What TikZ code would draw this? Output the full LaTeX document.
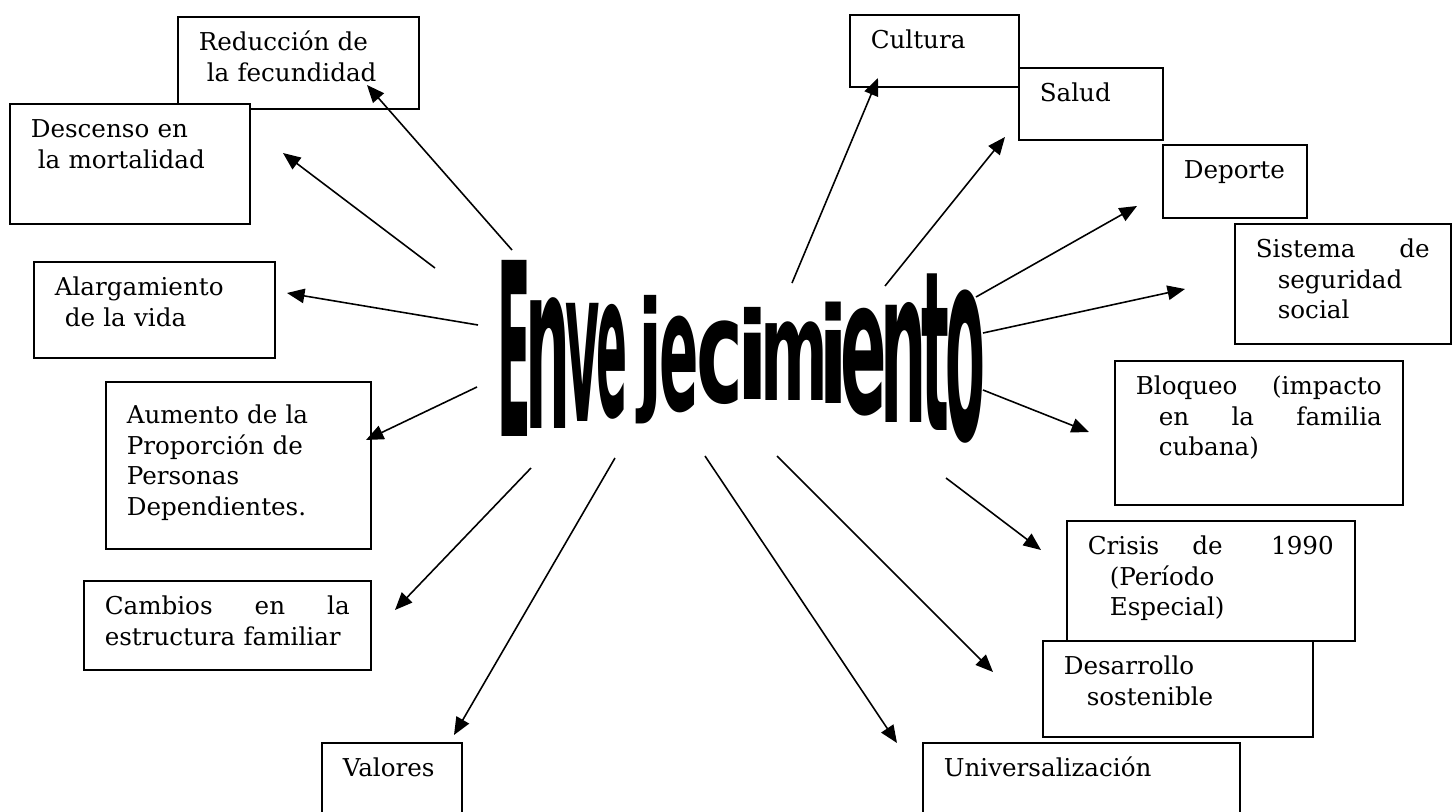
\documentclass[tikz,border=0pt]{standalone}
\usepackage{graphicx}
\usepackage{fontspec}
\setmainfont{DejaVu Serif}
\newfontfamily\letrero{DejaVu Sans}
\usetikzlibrary{arrows.meta}

\tikzset{
  caja/.style={draw, fill=white, line width=0.9pt, anchor=north west, align=left,
    inner xsep=4.2mm, inner ysep=0pt, text height=6.8mm,
    font=\fontsize{14pt}{17.35pt}\selectfont},
  flecha/.style={line width=0.9pt, -{Triangle[length=3.5mm,width=2.9mm]}},
  letra/.style={inner sep=0pt, anchor=base,
    font=\letrero\bfseries\fontsize{10pt}{10pt}\selectfont}
}

\begin{document}
\begin{tikzpicture}[x=0.2mm, y=-0.2mm]
  \useasboundingbox (0,0) rectangle (1456,812);

  % cajas de la izquierda
  \node[caja, text width=39.8mm, text depth=11.6mm] (reduccion) at (177,16)
    {Reducción de\\\hspace*{1.6mm}la fecundidad};
  \node[caja, text width=39.6mm, text depth=17.2mm] (descenso) at (9,103)
    {Descenso en\\\hspace*{1.4mm}la mortalidad};
  \node[caja, text width=39.8mm, text depth=12.4mm] (alargamiento) at (33,261)
    {Alargamiento\\\hspace*{2mm}de la vida};
  \node[caja, text width=44.6mm, text depth=25mm, text height=8.4mm] (aumento) at (105,381)
    {Aumento de la\\Proporción de\\Personas\\Dependientes.};
  \node[caja, text width=49mm, text depth=11mm] (cambios) at (83,580)
    {Cambios\hfill en\hfill la\\\mbox{estructura familiar}};
  \node[caja, text width=19.6mm, text depth=11.2mm] (valores) at (321,742)
    {Valores};

  % cajas de la derecha
  \node[caja, text width=25.4mm, text depth=7.6mm] (cultura) at (849,14) {Cultura};
  \node[caja, text width=20.4mm, text depth=7.6mm] (salud) at (1018,67) {Salud};
  \node[caja, text width=20.4mm, text depth=7.8mm] (deporte) at (1162,144) {Deporte};
  \node[caja, text width=34.8mm, text depth=17.2mm] (sistema) at (1234,223)
    {Sistema\hfill de\\\hspace*{4.4mm}seguridad\\\hspace*{4.4mm}social};
  \node[caja, text width=49.2mm, text depth=22mm] (bloqueo) at (1114,360)
    {Bloqueo\hfill(impacto\\\hspace*{4.6mm}en\hfill la\hfill familia\\\hspace*{4.6mm}cubana)};
  \node[caja, text width=49.2mm, text depth=17.2mm] (crisis) at (1066,520)
    {Crisis\hspace{6.6mm}de\hfill 1990\\\hspace*{4.4mm}(Período\\\hspace*{4.4mm}Especial)};
  \node[caja, text width=45.6mm, text depth=12.4mm] (desarrollo) at (1042,640)
    {Desarrollo\\\hspace*{4.6mm}sostenible};
  \node[caja, text width=55mm, text depth=11.2mm] (universal) at (922,742)
    {Universalización};

  % palabra central, letra por letra
  \foreach \ch/\cx/\by/\sx/\sy [count=\k] in {
      E/514.5/436/2.8/13.75, n/548.5/428/3.6/13.3, v/583/421/3.0/12.3,
      e/612/416/2.6/11.4, j/651/395/4.0/7.5, e/679.5/410/3.3/9.6,
      c/720/402/4.5/8.3, i/753/399/5.4/6.9, m/794/400/3.7/8.0,
      i/834/403/5.0/7.6, e/864/413/3.9/10.7, n/904/422/3.7/12.2,
      t/935.5/430/3.3/12.7, o/965.5/439/3.3/15.2}
    \node[letra] (l\k) at (\cx,\by) {\scalebox{\sx}[\sy]{\ch}};

  % flechas desde la palabra hacia cada caja
  \foreach \n/\ax/\ay/\bx/\by in {
      reduccion/512/250/367/85, descenso/435/268/283/153,
      alargamiento/478/325/287/293, aumento/477/387/366/440,
      cambios/531/468/395/610, valores/615/458/454/735,
      universal/705/456/897/743, desarrollo/777/456/993/672,
      crisis/946/478/1041/550, bloqueo/983/390/1089/432,
      sistema/983/333/1185/289, deporte/976/297/1137/206,
      salud/885/286/1005/137, cultura/792/283/878/78} {
    \coordinate (a-\n) at (\ax,\ay);
    \coordinate (b-\n) at (\bx,\by);
    \draw[flecha] (a-\n) -- (b-\n);
  }
\end{tikzpicture}
\end{document}
